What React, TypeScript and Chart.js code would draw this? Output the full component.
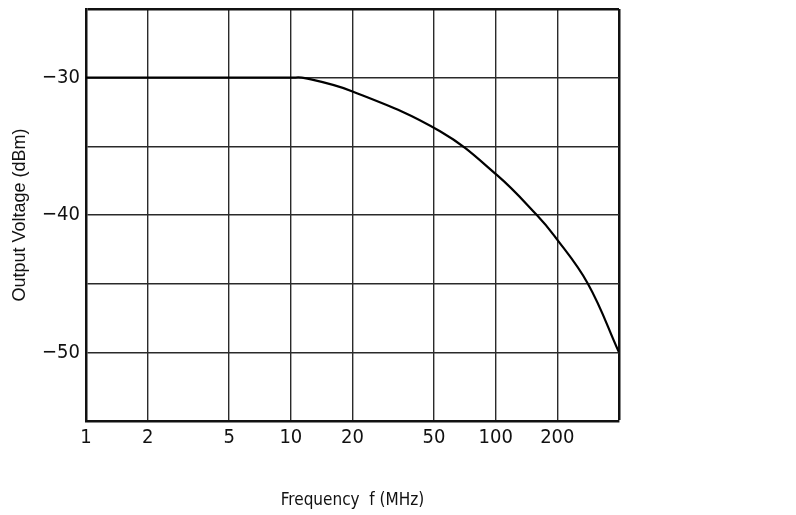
import React, { useEffect, useRef } from "react";
import { Chart, registerables } from "chart.js";

Chart.register(...registerables);

// Frequency (MHz) and output voltage (dBm)
const frequencies = [1, 5, 10, 11.7, 20, 53.5, 101.6, 158.8, 193, 282, 400];
const outputDbm = [-30, -30, -30, -30.03, -31.0, -33.9, -37.1, -40, -41.5, -45, -50];

const xTickValues = [1, 2, 5, 10, 20, 50, 100, 200, 400];
const xTickLabels = ["1", "2", "5", "10", "20", "50", "100", "200", ""];
const yTickValues = [-55, -50, -45, -40, -35, -30, -25];
const yTickLabels = ["", "\u221250", "", "\u221240", "", "\u221230", ""];

const X_MIN = 1;
const X_MAX = 400;
const Y_MIN = -55;
const Y_MAX = -25;

const narrowFamily = '"DejaVu Sans Condensed", "Liberation Sans", Arial, sans-serif';
const tickFont = { family: narrowFamily, size: 20 };

export default function App() {
  const canvasRef = useRef<HTMLCanvasElement | null>(null);

  useEffect(() => {
    const canvas = canvasRef.current;
    if (!canvas) return;
    const chart = new Chart(canvas, {
      type: "line",
      data: {
        datasets: [
          {
            data: frequencies.map((f, i) => ({ x: f, y: outputDbm[i] })),
            borderColor: "#000",
            borderWidth: 2.2,
            pointRadius: 0,
            tension: 0.4,
            fill: false,
          },
        ],
      },
      options: {
        animation: false,
        responsive: false,
        maintainAspectRatio: false,
        layout: { padding: { top: 9, right: 177, left: 0, bottom: 0 } },
        plugins: { legend: { display: false }, tooltip: { enabled: false } },
        scales: {
          x: {
            type: "logarithmic",
            min: X_MIN,
            max: X_MAX,
            afterBuildTicks: (axis: any) => {
              axis.ticks = xTickValues.map((v) => ({ value: v }));
            },
            afterFit: (axis: any) => {
              axis.height = 94;
              axis.paddingLeft = 0;
              axis.paddingRight = 0;
            },
            ticks: {
              autoSkip: false,
              maxRotation: 0,
              padding: 5,
              color: "#111",
              font: tickFont,
              callback: (value: any) => {
                const i = xTickValues.indexOf(Number(value));
                return i >= 0 ? xTickLabels[i] : "";
              },
            },
            grid: {
              drawTicks: false,
              color: (ctx: any) => (ctx.tick && ctx.tick.value === X_MAX ? "#111" : "#2a2a2a"),
              lineWidth: (ctx: any) => (ctx.tick && ctx.tick.value === X_MAX ? 2.5 : 1.4),
            },
            border: { display: true, color: "#111", width: 2.5 },
            title: {
              display: true,
              text: "Frequency  f (MHz)",
              color: "#111",
              font: { family: narrowFamily, size: 17 },
              padding: { top: 0, bottom: 4 },
            },
          },
          y: {
            type: "linear",
            min: Y_MIN,
            max: Y_MAX,
            afterBuildTicks: (axis: any) => {
              axis.ticks = yTickValues.map((v) => ({ value: v }));
            },
            afterFit: (axis: any) => {
              axis.width = 86;
              axis.paddingTop = 0;
              axis.paddingBottom = 0;
            },
            ticks: {
              autoSkip: false,
              padding: 6,
              color: "#111",
              font: tickFont,
              callback: (value: any) => {
                const i = yTickValues.indexOf(Number(value));
                return i >= 0 ? yTickLabels[i] : "";
              },
            },
            grid: {
              drawTicks: false,
              color: (ctx: any) => (ctx.tick && ctx.tick.value === Y_MAX ? "#111" : "#2a2a2a"),
              lineWidth: (ctx: any) => (ctx.tick && ctx.tick.value === Y_MAX ? 2.5 : 1.4),
            },
            border: { display: true, color: "#111", width: 2.5 },
            title: {
              display: true,
              text: "Output Voltage (dBm)",
              color: "#111",
              font: { family: '"Liberation Sans", Arial, sans-serif', size: 18 },
              padding: { top: 9, bottom: 0 },
            },
          },
        },
      },
    });
    return () => chart.destroy();
  }, []);

  return (
    <div style={{ position: "absolute", left: 0, top: 0, width: 796, height: 515, background: "#fff" }}>
      <canvas ref={canvasRef} width={796} height={515} style={{ display: "block", width: 796, height: 515 }} />
    </div>
  );
}
